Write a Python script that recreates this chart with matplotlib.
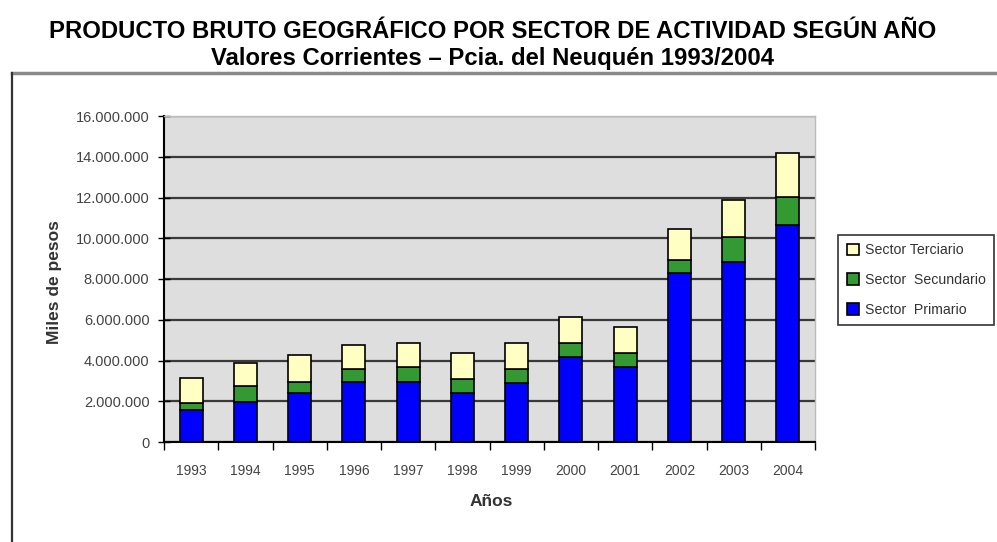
import matplotlib.pyplot as plt
from matplotlib.ticker import FuncFormatter
from matplotlib.lines import Line2D
import numpy as np

years = ['1993', '1994', '1995', '1996', '1997', '1998',
         '1999', '2000', '2001', '2002', '2003', '2004']
primario = [1570000, 1980000, 2390000, 2960000, 2960000, 2390000,
            2880000, 4180000, 3690000, 8270000, 8840000, 10640000]
secundario = [360000, 760000, 570000, 620000, 730000, 680000,
              680000, 660000, 690000, 680000, 1220000, 1390000]
terciario = [1190000, 1150000, 1300000, 1170000, 1180000, 1310000,
             1310000, 1300000, 1270000, 1520000, 1830000, 2150000]

plt.rcParams['font.family'] = ['Liberation Sans', 'DejaVu Sans']

fig = plt.figure(figsize=(9.97, 5.42), dpi=100)
W, H = 997, 542

# outer frame (top and left edges)
fig.add_artist(Line2D([12 / W, 1], [1 - 73 / H, 1 - 73 / H], color='#8a8a8a', lw=2.5))
fig.add_artist(Line2D([12 / W, 12 / W], [0, 1 - 73 / H], color='#333333', lw=1.6))

fig.text(0.494, 1 - 32 / H, 'PRODUCTO BRUTO GEOGRÁFICO POR SECTOR DE ACTIVIDAD SEGÚN AÑO',
         ha='center', va='center', fontsize=17.2, fontweight='bold')
fig.text(0.494, 1 - 59 / H, 'Valores Corrientes – Pcia. del Neuquén 1993/2004',
         ha='center', va='center', fontsize=17.2, fontweight='bold')

left, right, top, bottom = 164, 815, 116, 442
ax = fig.add_axes([left / W, 1 - bottom / H, (right - left) / W, (bottom - top) / H])
ax.set_facecolor('#dedede')

x = np.arange(len(years))
w = 0.42
p = np.array(primario)
s = np.array(secundario)
t = np.array(terciario)
ax.bar(x, p, w, color='#0000ff', edgecolor='black', lw=1.2, label='Sector  Primario', zorder=3)
ax.bar(x, s, w, bottom=p, color='#339933', edgecolor='black', lw=1.2, label='Sector  Secundario', zorder=3)
ax.bar(x, t, w, bottom=p + s, color='#ffffc4', edgecolor='black', lw=1.2, label='Sector Terciario', zorder=3)

ax.set_xlim(-0.5, len(years) - 0.5)
ax.set_ylim(0, 16000000)
ax.set_yticks(np.arange(0, 16000001, 2000000))
ax.yaxis.set_major_formatter(FuncFormatter(lambda v, _: f'{int(v):,}'.replace(',', '.')))
ax.grid(axis='y', color='#3a3a3a', lw=1.6, zorder=1)
ax.set_xticks(x)
ax.set_xticklabels(years)
ax.set_xticks(np.arange(-0.5, len(years)), minor=True)
ax.tick_params(axis='x', which='major', length=0, labelsize=10, colors='#444444', pad=16)
ax.tick_params(axis='x', which='minor', length=6, width=1, direction='out')
ax.tick_params(axis='y', length=9, width=1, direction='inout', labelsize=10.5,
               labelcolor='#444444', pad=6)

for side in ['top', 'right']:
    ax.spines[side].set_color('#bbbbbb')
    ax.spines[side].set_linewidth(1)
ax.spines['left'].set_linewidth(1.5)
ax.spines['bottom'].set_linewidth(1.5)

fig.text(55 / W, 1 - 282 / H, 'Miles de pesos', rotation=90, ha='center', va='center',
         fontsize=12.5, fontweight='bold', color='#333333')
fig.text(491 / W, 1 - 501 / H, 'Años', ha='center', va='center',
         fontsize=12.5, fontweight='bold', color='#333333')

handles, labels = ax.get_legend_handles_labels()
leg = fig.legend(handles[::-1], labels[::-1], loc='upper left',
                 bbox_to_anchor=(838 / W, 1 - 235 / H), fontsize=10.2,
                 frameon=True, fancybox=False, edgecolor='black',
                 handlelength=0.9, handleheight=0.9, labelspacing=1.1,
                 handletextpad=0.4, borderpad=0.6, borderaxespad=0)
leg.get_frame().set_linewidth(1.2)
for txt in leg.get_texts():
    txt.set_color('#333333')

fig.savefig('out.png', dpi=100)
